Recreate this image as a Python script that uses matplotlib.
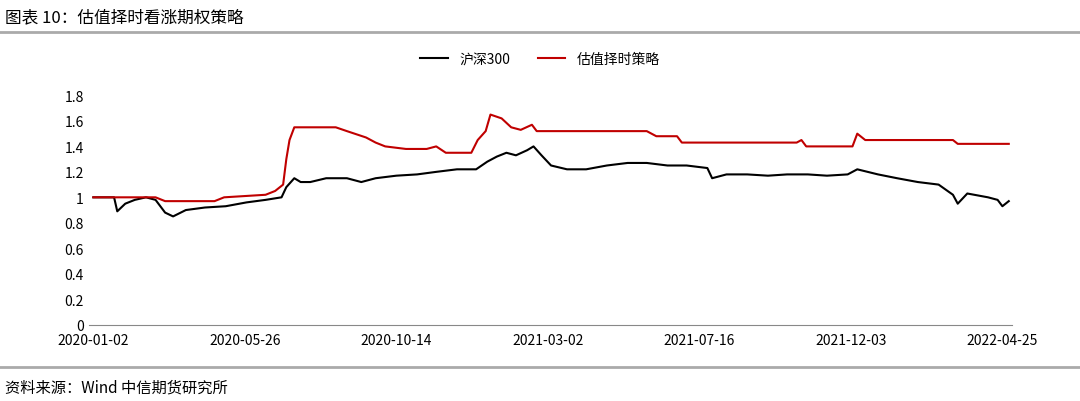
import matplotlib
matplotlib.use("Agg")
import matplotlib.pyplot as plt

plt.rcParams['font.family'] = ['Noto Sans CJK SC', 'DejaVu Sans']

tick_pos = [0, 95, 190, 285, 380, 475, 570]
tick_labels = ['2020-01-02', '2020-05-26', '2020-10-14', '2021-03-02',
               '2021-07-16', '2021-12-03', '2022-04-25']

# trading-day index and value
hs_days = [0, 8, 13, 15, 20, 26, 33, 39, 45, 50, 58, 70, 83, 96, 108, 118, 121, 126, 130, 136,
           146, 159, 168, 177, 190, 203, 215, 228, 240, 247, 253, 259, 265, 272, 276, 281, 287,
           297, 309, 322, 335, 347, 360, 372, 385, 388, 397, 410, 423, 435, 448, 460, 473, 479,
           492, 504, 517, 530, 539, 542, 548, 561, 567, 570, 574]
hs_vals = [1.0, 1.0, 1.0, 0.89, 0.95, 0.98, 1.0, 0.98, 0.88, 0.85, 0.9, 0.92, 0.93, 0.96, 0.98,
           1.0, 1.08, 1.15, 1.12, 1.12, 1.15, 1.15, 1.12, 1.15, 1.17, 1.18, 1.2, 1.22, 1.22, 1.28,
           1.32, 1.35, 1.33, 1.37, 1.40, 1.33, 1.25, 1.22, 1.22, 1.25, 1.27, 1.27, 1.25, 1.25,
           1.23, 1.15, 1.18, 1.18, 1.17, 1.18, 1.18, 1.17, 1.18, 1.22, 1.18, 1.15, 1.12, 1.1,
           1.02, 0.95, 1.03, 1.0, 0.98, 0.93, 0.97]

st_days = [0, 39, 45, 70, 76, 82, 108, 114, 119, 121, 123, 126, 133, 152, 159, 171, 177, 183,
           196, 209, 215, 221, 237, 241, 246, 249, 256, 262, 268, 275, 278, 297, 347, 353, 366,
           369, 385, 441, 444, 447, 476, 479, 484, 539, 542, 574]
st_vals = [1.0, 1.0, 0.97, 0.97, 0.97, 1.0, 1.02, 1.05, 1.1, 1.3, 1.45, 1.55, 1.55, 1.55, 1.52,
           1.47, 1.43, 1.40, 1.38, 1.38, 1.40, 1.35, 1.35, 1.45, 1.52, 1.65, 1.62, 1.55, 1.53,
           1.57, 1.52, 1.52, 1.52, 1.48, 1.48, 1.43, 1.43, 1.43, 1.45, 1.40, 1.40, 1.50, 1.45,
           1.45, 1.42, 1.42]

fig = plt.figure(figsize=(10.8, 4.02), dpi=100)
ax = fig.add_axes([0.082, 0.19, 0.855, 0.57])
ax.plot(hs_days, hs_vals, color='black', lw=1.5, label='沪深300')
ax.plot(st_days, st_vals, color='#c00000', lw=1.5, label='估值择时策略')
ax.set_ylim(0, 1.8)
ax.set_yticks([0, 0.2, 0.4, 0.6, 0.8, 1, 1.2, 1.4, 1.6, 1.8])
ax.set_yticklabels(['0', '0.2', '0.4', '0.6', '0.8', '1', '1.2', '1.4', '1.6', '1.8'])
ax.set_xlim(-3, 576)
ax.set_xticks(tick_pos)
ax.set_xticklabels(tick_labels)
for s in ['top', 'right', 'left']:
    ax.spines[s].set_visible(False)
ax.spines['bottom'].set_color('#888888')
ax.tick_params(axis='y', length=0, labelsize=10)
ax.tick_params(axis='x', length=0, labelsize=10, pad=6)
fig.legend(loc='center', bbox_to_anchor=(0.5, 0.85), ncol=2, frameon=False, fontsize=10)

fig.text(0.005, 0.955, '图表 10：估值择时看涨期权策略', fontsize=12, va='center')
fig.add_artist(plt.Line2D([0, 1], [0.918, 0.918], color='#aaaaaa', lw=2))
fig.add_artist(plt.Line2D([0, 1], [0.085, 0.085], color='#aaaaaa', lw=2))
fig.text(0.005, 0.035, '资料来源：Wind 中信期货研究所', fontsize=11, va='center')

fig.savefig('out.png', dpi=100)
